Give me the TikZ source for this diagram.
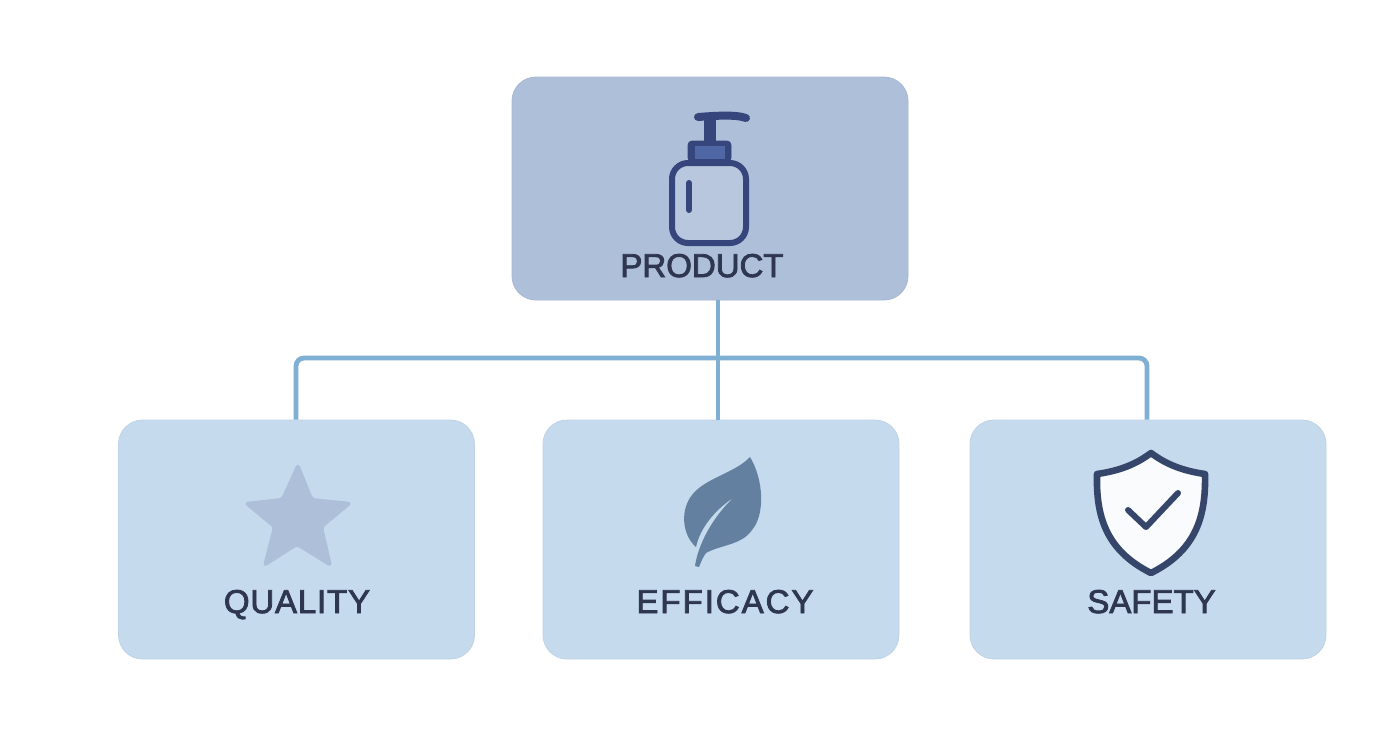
\documentclass[tikz,border=0pt]{standalone}
\usepackage{fontspec}
\setmainfont{Liberation Sans}[FakeBold=2.5]
\usetikzlibrary{positioning}
\definecolor{product-blue}{RGB}{174, 191, 218}
\definecolor{child-blue}{RGB}{197, 218, 236}
\definecolor{link-blue}{RGB}{127, 175, 211}
\definecolor{label-dark}{RGB}{47, 54, 80}
\definecolor{icon-dark}{RGB}{54, 70, 125}
\definecolor{cap-blue}{RGB}{79, 104, 165}
\definecolor{leaf-blue}{RGB}{100, 128, 160}
\definecolor{shield-dark}{RGB}{54, 70, 107}
\tikzset{
    productbox/.style={fill=product-blue, draw=product-blue!96!black, line width=0.4pt, rounded corners=12pt, inner sep=0pt, minimum width=198pt, minimum height=111.5pt},
    childbox/.style={fill=child-blue, draw=child-blue!97!black, line width=0.4pt, rounded corners=12pt, inner sep=0pt, minimum width=178pt, minimum height=119.5pt},
    boxlabel/.style={text=label-dark, font=\fontsize{16.5pt}{18pt}\selectfont, inner sep=0pt, anchor=base},
    link/.style={draw=link-blue, line width=2.4pt, rounded corners=4pt},
    bottleline/.style={draw=icon-dark, line width=3pt, line cap=round, line join=round}
}
\begin{document}
\begin{tikzpicture}[x=0.5pt, y=-0.5pt]
\useasboundingbox (0,0) rectangle (1392,752);
\coordinate (busleft) at (296,358);
\coordinate (busmid) at (718,358);
\coordinate (busright) at (1147,358);
\node[productbox] (productbox) at (710,188.5) {};
\node[childbox] (qualitybox) at (296.5,539.5) {};
\node[childbox] (efficacybox) at (721,539.5) {};
\node[childbox] (safetybox) at (1148,539.5) {};
\draw[link] (qualitybox.north -| busleft) -- (busleft) -- (busright) -- (safetybox.north -| busright);
\draw[link] (productbox.south -| busmid) -- (efficacybox.north -| busmid);
% bottle
\filldraw[bottleline, fill=product-blue!88!white, rounded corners=8pt] (672,163) rectangle (746,243);
\draw[bottleline] (689,183) -- (689,210);
\filldraw[fill=icon-dark, draw=icon-dark, rounded corners=2pt] (688,141) rectangle (731,162);
\fill[fill=cap-blue] (695,146) rectangle (725,159);
\fill[icon-dark] (704,116) rectangle (716,142);
\draw[bottleline, line width=4pt] (698,117) .. controls (712,116) and (735,114) .. (746,118);
% star
\filldraw[fill=product-blue, draw=product-blue, line width=1pt, line join=round, rounded corners=1.5pt] (298,464) -- (312,499) -- (351,503) -- (322,527) -- (331,566) -- (297,545) -- (264,566) -- (274,527) -- (245,503) -- (282,499) -- cycle;
% leaf
\fill[fill=leaf-blue] (750,457) .. controls (764,480) and (765,515) .. (752,530) .. controls (742,545) and (720,545) .. (706,553) .. controls (703,557) and (701,562) .. (699,567) -- (695,566) .. controls (698,545) and (712,518) .. (733,498) .. controls (715,510) and (700,528) .. (696,547) .. controls (682,535) and (680,510) .. (692,495) .. controls (705,478) and (735,473) .. cycle;
% shield
\filldraw[fill=white!90!child-blue, draw=shield-dark, line width=3.3pt, line join=round] (1151,453) .. controls (1135,465) and (1118,471) .. (1097,474) .. controls (1096,515) and (1105,550) .. (1151,573) .. controls (1197,550) and (1206,515) .. (1205,474) .. controls (1184,471) and (1167,465) .. cycle;
\draw[draw=shield-dark, line width=3pt, line cap=round, line join=round] (1128,510) -- (1146,527) -- (1178,493);
% labels
\node[boxlabel] (productlabel) at (702,277) {PRODUCT};
\node[boxlabel] (qualitylabel) at (297,613) {\addfontfeatures{LetterSpace=2.5}QUALITY};
\node[boxlabel] (efficacylabel) at (725,613) {\addfontfeatures{LetterSpace=6}EFFICACY};
\node[boxlabel] (safetylabel) at (1151.5,613) {SAFETY};
\end{tikzpicture}
\end{document}
